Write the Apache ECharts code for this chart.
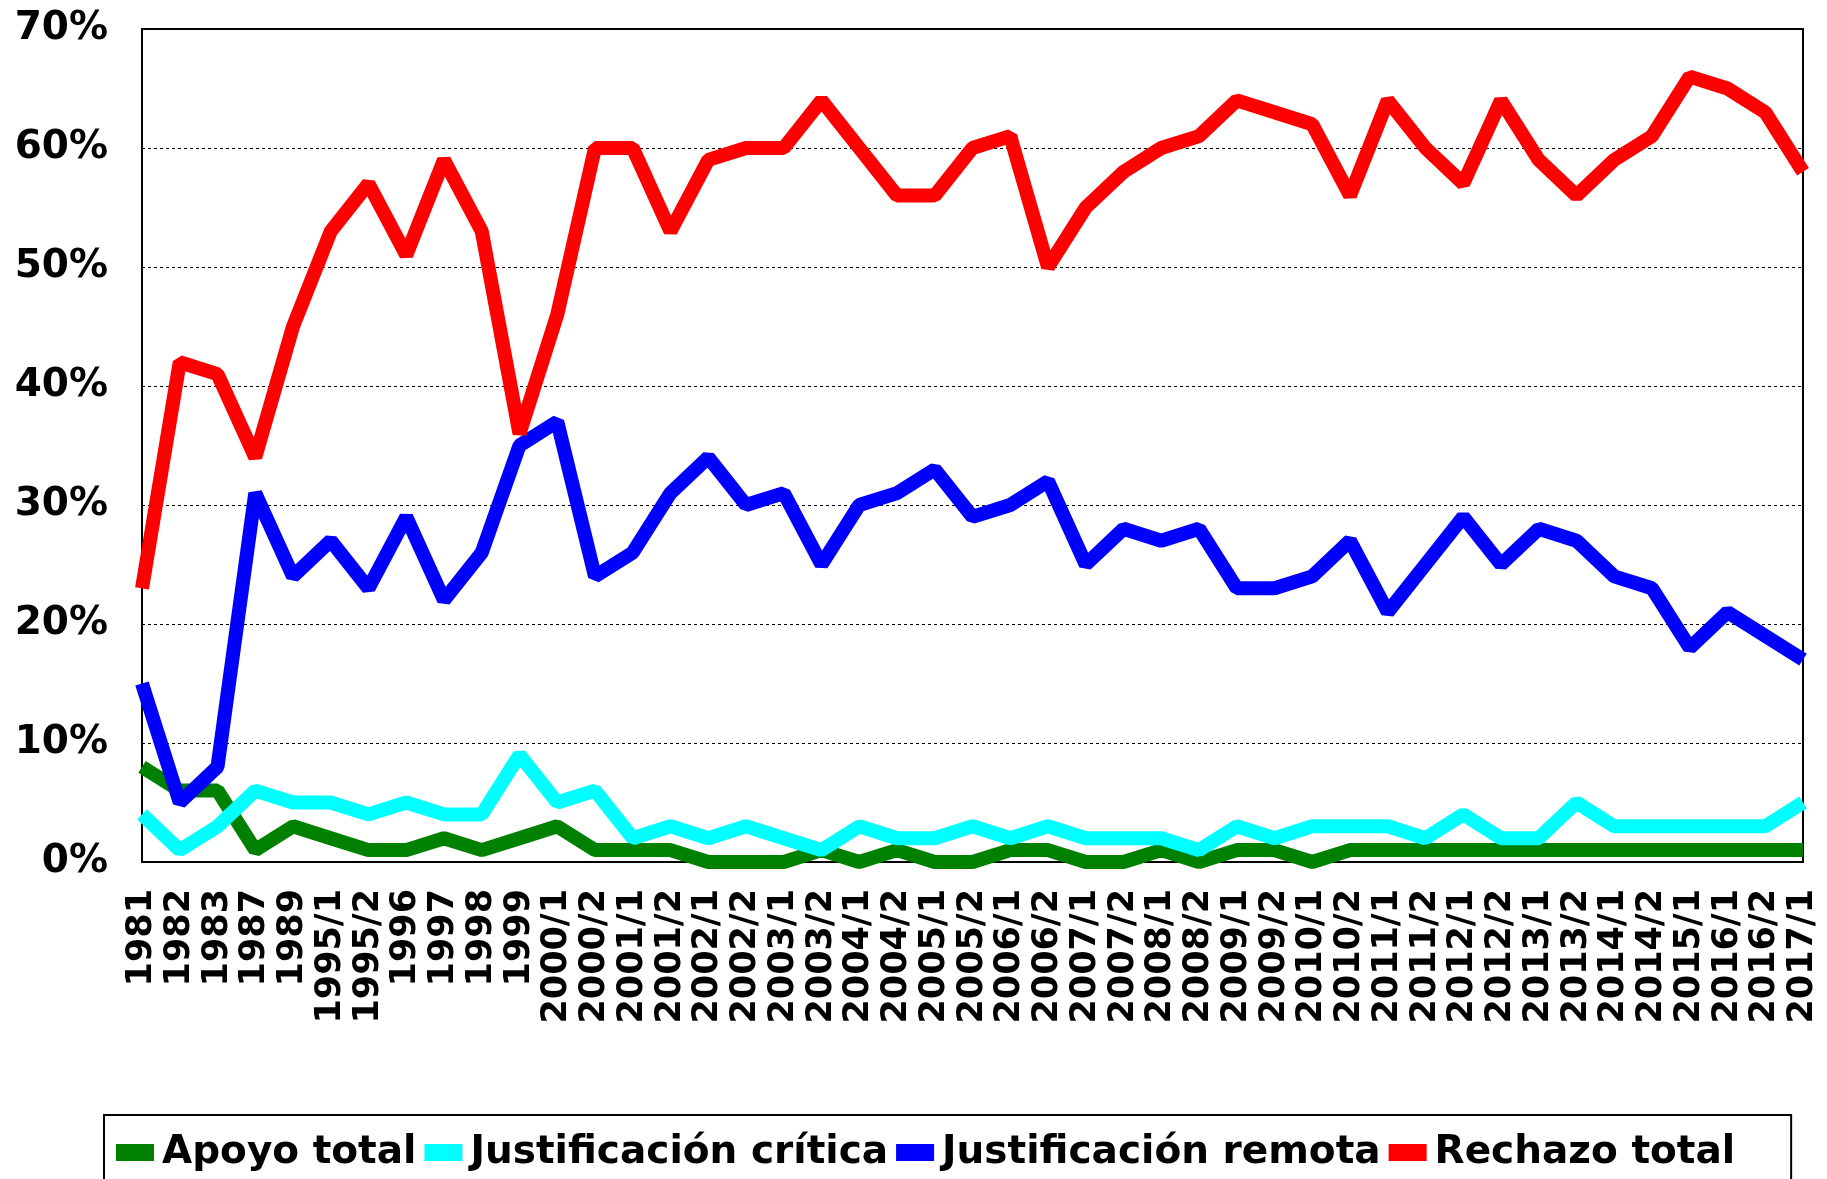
<!DOCTYPE html>
<html>
<head>
<meta charset="utf-8">
<script src="https://cdn.jsdelivr.net/npm/echarts@6/dist/echarts.min.js"></script>
<style>
  html, body { margin: 0; padding: 0; background: #fff; }
  #chart { width: 1827px; height: 1179px; }
</style>
</head>
<body>
<div id="chart"></div>
<script>
// survey waves
const waves = [
  '1981', '1982', '1983', '1987', '1989', '1995/1', '1995/2', '1996', '1997', '1998',
  '1999', '2000/1', '2000/2', '2001/1', '2001/2', '2002/1', '2002/2', '2003/1', '2003/2', '2004/1',
  '2004/2', '2005/1', '2005/2', '2006/1', '2006/2', '2007/1', '2007/2', '2008/1', '2008/2', '2009/1',
  '2009/2', '2010/1', '2010/2', '2011/1', '2011/2', '2012/1', '2012/2', '2013/1', '2013/2', '2014/1',
  '2014/2', '2015/1', '2016/1', '2016/2', '2017/1'
]

const apoyoTotal = [
  8, 6, 6, 1, 3, 2, 1, 1, 2, 1,
  2, 3, 1, 1, 1, 0, 0, 0, 1, 0,
  1, 0, 0, 1, 1, 0, 0, 1, 0, 1,
  1, 0, 1, 1, 1, 1, 1, 1, 1, 1,
  1, 1, 1, 1, 1
]
const justCritica = [
  4, 1, 3, 6, 5, 5, 4, 5, 4, 4,
  9, 5, 6, 2, 3, 2, 3, 2, 1, 3,
  2, 2, 3, 2, 3, 2, 2, 2, 1, 3,
  2, 3, 3, 3, 2, 4, 2, 2, 5, 3,
  3, 3, 3, 3, 5
]
const justRemota = [
  15, 5, 8, 31, 24, 27, 23, 29, 22, 26,
  35, 37, 24, 26, 31, 34, 30, 31, 25, 30,
  31, 33, 29, 30, 32, 25, 28, 27, 28, 23,
  23, 24, 27, 21, 25, 29, 25, 28, 27, 24,
  23, 18, 21, 19, 17
]
const rechazoTotal = [
  23, 42, 41, 34, 45, 53, 57, 51, 59, 53,
  36, 46, 60, 60, 53, 59, 60, 60, 64, 60,
  56, 56, 60, 61, 50, 55, 58, 60, 61, 64,
  63, 62, 56, 64, 60, 57, 64, 59, 56, 59,
  61, 66, 65, 63, 58
]

const seriesNames = ['Apoyo total', 'Justificación crítica', 'Justificación remota', 'Rechazo total']
const seriesColors = ['#008000', '#00ffff', '#0000ff', '#ff0000']
const seriesData = [apoyoTotal, justCritica, justRemota, rechazoTotal]

const font = 'DejaVu Sans'

const myChart = echarts.init(document.getElementById('chart'))

const option = {
  animation: false,
  backgroundColor: '#fff',
  grid: {
    left: 142,
    right: 24,
    top: 29,
    bottom: 317,
    show: true,
    borderColor: '#000',
    borderWidth: 2
  },
  legend: {
    data: seriesNames,
    left: 104,
    top: 1115,
    icon: 'rect',
    itemWidth: 38,
    itemHeight: 17,
    itemGap: 8,
    padding: [18, 56, 40, 12],
    borderColor: '#000',
    borderWidth: 2,
    textStyle: {
      color: '#000',
      fontFamily: font,
      fontWeight: 'bold',
      fontSize: 39,
      padding: [0, 0, 0, 3]
    }
  },
  xAxis: {
    type: 'category',
    boundaryGap: false,
    data: waves,
    axisLine: { show: true, lineStyle: { color: '#000', width: 2 } },
    axisTick: { show: false },
    axisLabel: {
      interval: 0,
      rotate: 90,
      margin: 27,
      color: '#000',
      fontFamily: font,
      fontWeight: 'bold',
      fontSize: 35
    },
    splitLine: { show: false }
  },
  yAxis: {
    type: 'value',
    min: 0,
    max: 70,
    interval: 10,
    axisLine: { show: true, lineStyle: { color: '#000', width: 2 } },
    axisTick: { show: false },
    axisLabel: {
      formatter: '{value}%',
      margin: 34,
      color: '#000',
      fontFamily: font,
      fontWeight: 'bold',
      fontSize: 39
    },
    splitLine: {
      show: true,
      lineStyle: { color: '#000', width: 1, type: [3, 3] }
    }
  },
  series: seriesNames.map((name, i) => ({
    name: name,
    type: 'line',
    data: seriesData[i],
    symbol: 'none',
    color: seriesColors[i],
    lineStyle: { width: 14, color: seriesColors[i] },
    z: 2 + i
  }))
}

myChart.setOption(option)
</script>
</body>
</html>
